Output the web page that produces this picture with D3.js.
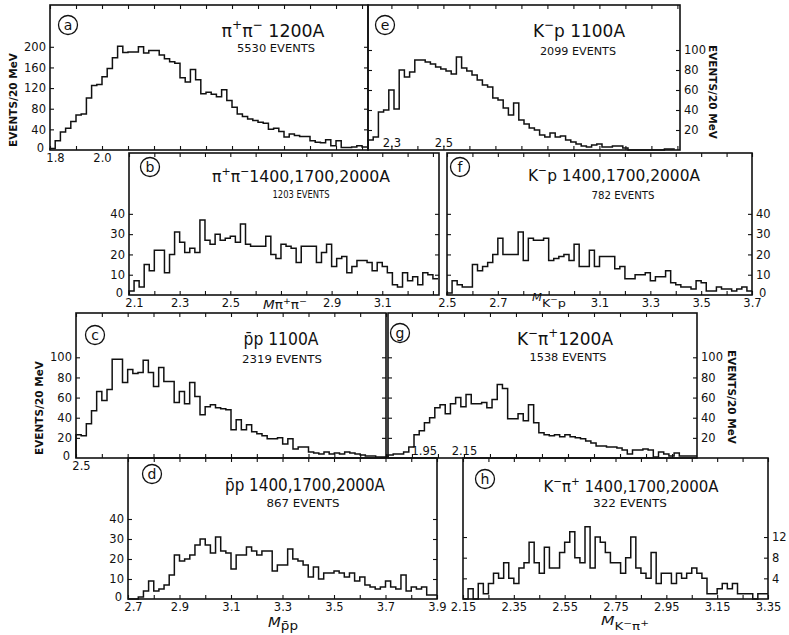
<!DOCTYPE html>
<html>
<head>
<meta charset="utf-8">
<script src="https://cdn.jsdelivr.net/npm/d3@7"></script>
<style>
  body { margin: 0; background: #fff; }
  text { font-family: "DejaVu Sans", sans-serif; fill: #111; }
</style>
</head>
<body>
<svg id="fig"></svg>
<script>
const aCounts = [3, 18, 35, 42, 55, 68, 70, 101, 125, 127, 142, 158, 179, 201, 189, 190, 190, 200, 188, 193,
  193, 184, 177, 171, 168, 140, 132, 156, 136, 109, 112, 108, 103, 117, 96, 83, 70, 65, 60, 57,
  54, 52, 40, 42, 36, 25, 31, 28, 26, 26, 18, 15, 14, 20, 8, 18, 5, 5, 6, 8, 6]
const eCounts = [10, 13, 38, 40, 60, 41, 80, 73, 78, 90, 90, 88, 86, 83, 81, 79, 76, 93, 82, 79,
  75, 70, 65, 63, 52, 50, 42, 35, 47, 30, 26, 22, 20, 15, 13, 17, 13, 14, 10, 8,
  6, 4, 3, 5, 6, 3, 3, 4, 4, 2, 0, 0, 0, 0, 0, 0, 0, 1, 1]
const bCounts = [2, 7, 4, 15, 12, 22, 22, 11, 20, 31, 26, 21, 23, 21, 37, 27, 25, 30, 27, 28,
  29, 26, 35, 25, 24, 24, 24, 29, 20, 18, 25, 24, 23, 16, 24, 24, 24, 16, 21, 25,
  14, 18, 19, 11, 14, 17, 17, 16, 12, 16, 14, 11, 5, 4, 11, 7, 9, 5, 11, 10, 8]
const fCounts = [1, 7, 5, 4, 4, 15, 12, 14, 16, 20, 28, 20, 20, 20, 31, 17, 28, 27, 27, 28,
  17, 18, 19, 20, 17, 25, 14, 14, 22, 14, 19, 19, 19, 13, 14, 8, 8, 10, 10, 11,
  7, 9, 9, 12, 6, 5, 4, 4, 3, 7, 6, 2, 2, 4, 3, 3, 2, 3, 4, 2]
const cCounts = [23, 22, 34, 47, 66, 57, 68, 98, 98, 75, 88, 84, 85, 97, 85, 71, 90, 76, 76, 55,
  66, 54, 75, 61, 43, 51, 53, 50, 49, 48, 28, 38, 28, 33, 26, 24, 22, 19, 19, 20,
  14, 19, 9, 11, 11, 6, 5, 4, 6, 4, 5, 4, 6, 5, 4, 3, 2, 2, 1, 1]
const gCounts = [3, 4, 4, 6, 11, 23, 27, 35, 40, 50, 53, 44, 54, 60, 51, 63, 54, 54, 55, 50,
  58, 73, 69, 39, 39, 44, 37, 53, 35, 25, 23, 22, 23, 21, 23, 21, 20, 19, 17, 15,
  12, 12, 11, 11, 10, 8, 4, 8, 8, 9, 8, 1, 6, 4, 2, 5, 2, 2, 2, 2]
const dCounts = [0, 0, 1, 4, 9, 4, 5, 7, 12, 22, 19, 20, 22, 27, 30, 27, 23, 31, 24, 23,
  15, 22, 22, 26, 24, 22, 24, 24, 14, 17, 17, 25, 20, 19, 17, 11, 16, 10, 13, 13,
  14, 13, 11, 13, 9, 11, 7, 6, 5, 6, 9, 6, 5, 12, 4, 6, 5, 6, 2, 2]
const hCounts = [0, 2, 0, 3, 1, 3, 5, 4, 7, 4, 3, 6, 7, 11, 7, 5, 10, 6, 6, 9,
  11, 13, 8, 7, 14, 6, 12, 11, 9, 7, 7, 5, 8, 12, 6, 5, 4, 9, 3, 5,
  5, 3, 5, 4, 5, 6, 5, 4, 1, 1, 2, 3, 2, 3, 1, 1, 1, 0, 1, 1]
const binWidth = 0.02

// first bin edge of every plate
const aStart = 1.8, eStart = 2.21, bStart = 2.1, fStart = 2.5
const cStart = 2.5, gStart = 1.858, dStart = 2.7, hStart = 2.15

// tick labels
const aXLabels = [1.8, 2.0], aYLabels = [0, 40, 80, 120, 160, 200]
const eXLabels = [2.3, 2.5], eYLabels = [20, 40, 60, 80, 100]
const bXLabels = [2.1, 2.3, 2.5, 2.9, 3.1], bYLabels = [0, 10, 20, 30, 40]
const fXLabels = [2.5, 2.7, 3.1, 3.3, 3.5, 3.7], fYLabels = [0, 10, 20, 30, 40]
const cXLabels = [2.5], cYLabels = [0, 20, 40, 60, 80, 100]
const gXLabels = [1.95, 2.15], gYLabels = [20, 40, 60, 80, 100]
const dXLabels = [2.7, 2.9, 3.1, 3.3, 3.5, 3.7, 3.9], dYLabels = [0, 10, 20, 30, 40]
const hXLabels = [2.15, 2.35, 2.55, 2.75, 2.95, 3.15, 3.35], hYLabels = [4, 8, 12]

// titles: [text, rise (em), scale, italic]
const aTitle = [["π"], ["+", -0.45, 0.7], ["π"], ["−", -0.45, 0.7], [" 1200A"]]
const eTitle = [["K"], ["−", -0.45, 0.7], ["p 1100A"]]
const bTitle = [["π"], ["+", -0.45, 0.7], ["π"], ["−", -0.45, 0.7], ["1400,1700,2000A"]]
const fTitle = [["K"], ["−", -0.45, 0.7], ["p 1400,1700,2000A"]]
const cTitle = [["p̄p 1100A"]]
const gTitle = [["K"], ["−", -0.45, 0.7], ["π"], ["+", -0.45, 0.7], ["1200A"]]
const dTitle = [["p̄p 1400,1700,2000A"]]
const hTitle = [["K"], ["−", -0.45, 0.7], ["π"], ["+", -0.45, 0.7], [" 1400,1700,2000A"]]
const eventLabels = ["5530 EVENTS", "2099 EVENTS", "1203 EVENTS", "782 EVENTS",
  "2319 EVENTS", "1538 EVENTS", "867 EVENTS", "322 EVENTS"]

const bMass = [["M", 0, 1, 1], ["π"], ["+", -0.45, 0.7], ["π"], ["−", -0.45, 0.7]]
const fMass = [["M", 0, 0.9, 1], ["K", 0.5], ["−", 0.1, 0.7], ["p", 0.5]]
const dMass = [["M", 0, 1.1, 1], ["p̄p", 0.25]]
const hMass = [["M", 0, 1.05, 1], ["K", 0.4, 0.9], ["−", 0.05, 0.7], ["π", 0.4, 0.9], ["+", 0.05, 0.7]]
const yTitle = "EVENTS/20 MeV"

const panels = [
  { id: "a", counts: aCounts, start: aStart, box: [50, 5, 368, 150], xd: [1.8, 3.023], ymax: 281,
    xLabels: aXLabels, yLabels: aYLabels, fmt: ".1f", side: "left", minorStart: 1.8,
    tag: [68, 25], title: aTitle, titleAt: [273, 37, 18, 103], evAt: [276, 52, 11, 78] },
  { id: "e", counts: eCounts, start: eStart, box: [368, 5, 680, 150], xd: [2.21, 3.41], ymax: 145,
    xLabels: eXLabels, yLabels: eYLabels, fmt: ".1f", side: "right", inside: true, minorStart: 2.3,
    tag: [385, 25], title: eTitle, titleAt: [579, 37, 18, 92], evAt: [578, 55, 11, 76] },
  { id: "b", counts: bCounts, start: bStart, box: [129, 153, 439, 295], xd: [2.1, 3.324], ymax: 70,
    xLabels: bXLabels, yLabels: bYLabels, fmt: ".1f", side: "left", minorStart: 2.1,
    tag: [150, 167], title: bTitle, titleAt: [301, 182, 16, 178], evAt: [301, 198, 10, 57] },
  { id: "f", counts: fCounts, start: fStart, box: [447, 153, 752, 295], xd: [2.5, 3.7], ymax: 70,
    xLabels: fXLabels, yLabels: fYLabels, fmt: ".1f", side: "right", minorStart: 2.5,
    tag: [460, 167], title: fTitle, titleAt: [614, 181, 16, 172], evAt: [623, 199, 10.5, 63] },
  { id: "c", counts: cCounts, start: cStart, box: [76, 313, 386, 458], xd: [2.5, 3.7], ymax: 144,
    xLabels: cXLabels, yLabels: cYLabels, fmt: ".1f", side: "left", minorStart: 2.5,
    tag: [95, 335], title: cTitle, titleAt: [281, 345, 18, 75], evAt: [282, 363, 11, 80] },
  { id: "g", counts: gCounts, start: gStart, box: [388, 313, 697, 458], xd: [1.858, 3.046], ymax: 144,
    xLabels: gXLabels, yLabels: gYLabels, fmt: ".2f", side: "right", inside: true, minorStart: 1.95,
    tag: [400, 333], title: gTitle, titleAt: [565, 345, 17, 96], evAt: [568, 361, 11, 77] },
  { id: "d", counts: dCounts, start: dStart, box: [128, 458, 437, 599], xd: [2.7, 3.9], ymax: 70.5,
    xLabels: dXLabels, yLabels: dYLabels, fmt: ".1f", side: "left", minorStart: 2.7,
    tag: [152, 474], title: dTitle, titleAt: [305, 491, 17, 160], evAt: [303, 507, 11, 73] },
  { id: "h", counts: hCounts, start: hStart, box: [463, 458, 768, 599], xd: [2.15, 3.35], ymax: 27.3,
    xLabels: hXLabels, yLabels: hYLabels, fmt: ".2f", side: "right", minorStart: 2.15,
    tag: [485, 479], title: hTitle, titleAt: [631, 492, 16, 175], evAt: [630, 507, 11, 74] }
]

const svg = d3.select("#fig").attr("width", 789).attr("height", 635)

function rich(parent, parts, x, y, size, width, anchor) {
  const t = parent.append("text")
    .attr("x", x).attr("y", y)
    .attr("font-size", size)
    .attr("text-anchor", anchor || "middle")
  if (width) t.attr("textLength", width).attr("lengthAdjust", "spacingAndGlyphs")
  let cur = 0
  parts.forEach(([s, rise = 0, scale = 1, italic = 0]) => {
    t.append("tspan")
      .attr("dy", (rise - cur) * size)
      .attr("font-size", size * scale)
      .attr("font-style", italic ? "italic" : null)
      .text(s)
    cur = rise
  })
  return t
}

function styleAxis(sel) {
  sel.select(".domain").remove()
  sel.attr("font-family", null).attr("font-size", null)
  sel.selectAll("text").attr("font-size", 11.5).attr("fill", "#111")
  sel.selectAll("line").attr("stroke", "#111").attr("stroke-width", 1.1)
}

panels.forEach((p, pi) => {
  const [x0, y0, x1, y1] = p.box
  const x = d3.scaleLinear().domain(p.xd).range([x0, x1]).clamp(true)
  const y = d3.scaleLinear().domain([0, p.ymax]).range([y1, y0])
  const g = svg.append("g").attr("class", `panel-${p.id}`)
  const minor = d3.range(p.minorStart, p.xd[1] + 1e-6, 0.1)
  const yTicks = p.yLabels.filter(v => v > 0)

  //小刻度：四条边都朝里
  g.append("g").attr("transform", `translate(0,${y1})`)
    .call(d3.axisBottom(x).tickValues(minor).tickSize(-4).tickFormat("")).call(styleAxis)
  g.append("g").attr("transform", `translate(0,${y0})`)
    .call(d3.axisTop(x).tickValues(minor).tickSize(-4).tickFormat("")).call(styleAxis)
  g.append("g").attr("transform", `translate(${x0},0)`)
    .call(d3.axisLeft(y).tickValues(yTicks).tickSize(-4).tickFormat("")).call(styleAxis)
  g.append("g").attr("transform", `translate(${x1},0)`)
    .call(d3.axisRight(y).tickValues(yTicks).tickSize(-4).tickFormat("")).call(styleAxis)

  //刻度数字
  const xAxis = (p.inside ? d3.axisTop(x) : d3.axisBottom(x))
    .tickValues(p.xLabels).tickSize(0).tickPadding(p.inside ? 3 : 4).tickFormat(d3.format(p.fmt))
  const xl = g.append("g").attr("transform", `translate(0,${y1})`).call(xAxis).call(styleAxis)
  if (p.id === "g") xl.selectAll("text").filter(d => d === 1.95).attr("text-anchor", "start").attr("dx", -1)
  // the first label sits a little right of the corner, clear of the "0"
  if (p.side === "left") xl.selectAll("text").filter(d => d === p.xd[0]).attr("dx", 5)

  const yAxis = (p.side === "left" ? d3.axisLeft(y) : d3.axisRight(y))
    .tickValues(p.yLabels).tickSize(0).tickPadding(4).tickFormat(d3.format("d"))
  const yl = g.append("g").attr("transform", `translate(${p.side === "left" ? x0 : x1},0)`)
    .call(yAxis).call(styleAxis)
  yl.selectAll("text").filter(d => d === 0)
    .attr("dy", "0.1em").attr("dx", p.side === "left" ? -2 : 3)

  //外框
  g.append("rect")
    .attr("x", x0).attr("y", y0)
    .attr("width", x1 - x0).attr("height", y1 - y0)
    .attr("fill", "none").attr("stroke", "#111").attr("stroke-width", 1.6)

  //直方图
  const pts = [[p.start, 0]].concat(p.counts.map((c, i) => [p.start + i * binWidth, c]))
  pts.push([p.start + p.counts.length * binWidth, p.counts[p.counts.length - 1]])
  const line = d3.line().x(d => x(d[0])).y(d => y(d[1])).curve(d3.curveStepAfter)
  g.append("path")
    .attr("d", line(pts))
    .attr("fill", "none").attr("stroke", "#111").attr("stroke-width", 1.5)

  //圈字母
  g.append("circle")
    .attr("cx", p.tag[0]).attr("cy", p.tag[1]).attr("r", 9.5)
    .attr("fill", "none").attr("stroke", "#111").attr("stroke-width", 1.3)
  g.append("text")
    .attr("x", p.tag[0]).attr("y", p.tag[1] + 5)
    .attr("text-anchor", "middle").attr("font-size", 14)
    .text(p.id)

  rich(g, p.title, p.titleAt[0], p.titleAt[1], p.titleAt[2], p.titleAt[3])
  rich(g, [[eventLabels[pi]]], p.evAt[0], p.evAt[1], p.evAt[2], p.evAt[3])
})

// mass labels on the axes
rich(svg, bMass, 263, 309, 12, 44, "start")
rich(svg, fMass, 532, 301, 11, 34, "start")
rich(svg, dMass, 268, 627, 12, 30, "start")
rich(svg, hMass, 601, 625, 12, 48, "start")

// y titles
const yTitles = [[13, 100, -90], [39, 408, -90], [713, 92, 90], [732, 397, 90]]
yTitles.forEach(([tx, ty, rot]) => {
  svg.append("text")
    .attr("transform", `translate(${tx},${ty}) rotate(${rot})`)
    .attr("text-anchor", "middle").attr("dy", "0.35em")
    .attr("font-size", 11).attr("font-weight", "bold")
    .attr("textLength", 94).attr("lengthAdjust", "spacingAndGlyphs")
    .text(yTitle)
})
</script>
</body>
</html>
